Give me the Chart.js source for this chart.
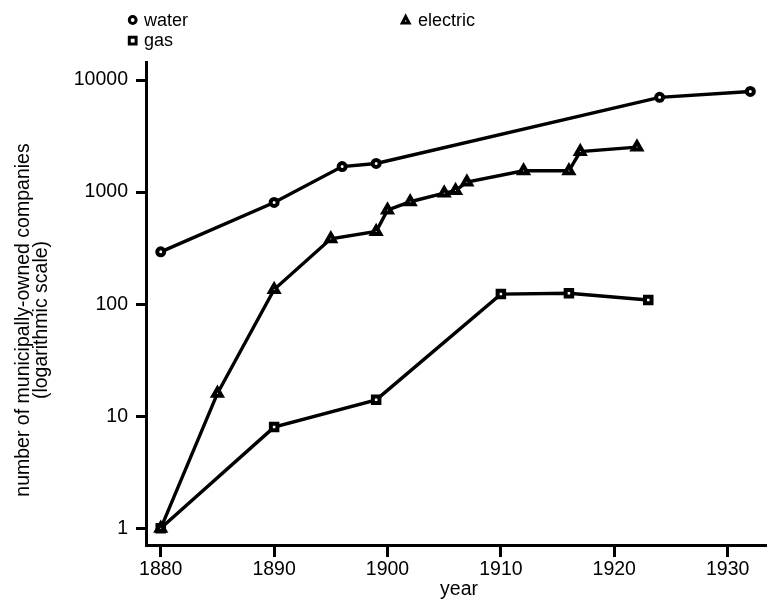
<!DOCTYPE html>
<html>
<head>
<meta charset="utf-8">
<title>Municipally-owned companies</title>
<script src="https://cdn.jsdelivr.net/npm/chart.js@4/dist/chart.umd.min.js"></script>
<style>
  html, body { margin: 0; padding: 0; background: #fff; }
  canvas { display: block; }
</style>
</head>
<body>
<canvas id="chart" width="775" height="603"></canvas>
<script>
// --- data ---
var waterYears = [1880, 1890, 1896, 1899, 1924, 1932];
var waterCounts = [293, 808, 1690, 1800, 7000, 7900];

var electricYears = [1880, 1885, 1890, 1895, 1899, 1900, 1902, 1905, 1906, 1907, 1912, 1916, 1917, 1922];
var electricCounts = [1, 16, 135, 383, 445, 690, 820, 980, 1030, 1230, 1550, 1550, 2300, 2520];

var gasYears = [1880, 1890, 1899, 1910, 1916, 1923];
var gasCounts = [1, 8, 14, 123, 125, 109];

var yearTicks = [1880, 1890, 1900, 1910, 1920, 1930];
var countTicks = [1, 10, 100, 1000, 10000];

var seriesNames = ['water', 'electric', 'gas'];

function toPoints(xs, ys) {
  return xs.map(function (x, i) { return { x: x, y: ys[i] }; });
}

var FONT = "'Liberation Sans', Arial, Helvetica, sans-serif";
Chart.defaults.font.family = FONT;
Chart.defaults.color = '#000';

function series(label, xs, ys, style, radius) {
  return {
    label: label,
    data: toPoints(xs, ys),
    borderColor: '#000',
    borderWidth: 3.4,
    pointStyle: style,
    pointRadius: radius,
    pointBorderWidth: 4,
    pointBackgroundColor: '#fff',
    pointBorderColor: '#000',
    tension: 0,
    fill: false
  };
}

// marker drawing used by the legend
function marker(ctx, style, x, y, r) {
  ctx.beginPath();
  if (style === 'circle') {
    ctx.arc(x, y, r, 0, Math.PI * 2);
  } else if (style === 'triangle') {
    ctx.moveTo(x, y - r * 1.15);
    ctx.lineTo(x + r, y + r * 0.75);
    ctx.lineTo(x - r, y + r * 0.75);
    ctx.closePath();
  } else {
    ctx.rect(x - r, y - r, 2 * r, 2 * r);
  }
  ctx.fillStyle = '#fff';
  ctx.fill();
  ctx.lineWidth = 3;
  ctx.strokeStyle = '#000';
  ctx.stroke();
}

var annotations = {
  id: 'annotations',
  afterDraw: function (chart) {
    var ctx = chart.ctx;
    ctx.save();
    ctx.fillStyle = '#000';

    // legend
    ctx.font = '18px ' + FONT;
    ctx.textAlign = 'left';
    ctx.textBaseline = 'alphabetic';
    var legend = [
      { name: seriesNames[0], style: 'circle', x: 132.7, y: 20, tx: 144, ty: 26 },
      { name: seriesNames[1], style: 'triangle', x: 405.7, y: 20.5, tx: 418, ty: 26 },
      { name: seriesNames[2], style: 'rect', x: 132.7, y: 40.7, tx: 144, ty: 46 }
    ];
    legend.forEach(function (l) {
      marker(ctx, l.style, l.x, l.y, 3.4);
      ctx.fillStyle = '#000';
      ctx.fillText(l.name, l.tx, l.ty);
    });

    // x title
    ctx.font = '19.5px ' + FONT;
    ctx.textAlign = 'center';
    ctx.fillText('year', 459, 595);

    // y title, two lines
    ctx.translate(0, 320);
    ctx.rotate(-Math.PI / 2);
    ctx.fillText('number of municipally-owned companies', 0, 29);
    ctx.fillText('(logarithmic scale)', 0, 47);
    ctx.restore();
  }
};

new Chart(document.getElementById('chart').getContext('2d'), {
  type: 'line',
  data: {
    datasets: [
      series(seriesNames[0], waterYears, waterCounts, 'circle', 3.5),
      series(seriesNames[1], electricYears, electricCounts, 'triangle', 4.8),
      series(seriesNames[2], gasYears, gasCounts, 'rect', 4.6)
    ]
  },
  options: {
    responsive: false,
    animation: false,
    devicePixelRatio: 1,
    layout: { padding: { top: 62, right: 0, left: 0, bottom: 0 } },
    plugins: {
      legend: { display: false },
      tooltip: { enabled: false }
    },
    scales: {
      x: {
        type: 'linear',
        bounds: 'data',
        min: 1878.7,
        max: 1933.4,
        afterBuildTicks: function (scale) {
          scale.ticks = yearTicks.map(function (v) { return { value: v }; });
        },
        afterFit: function (scale) { scale.height = 58; },
        border: { display: true, color: '#000', width: 3 },
        grid: {
          display: true,
          drawOnChartArea: false,
          drawTicks: true,
          tickLength: 12,
          tickWidth: 3,
          tickColor: '#000'
        },
        ticks: {
          padding: 1,
          maxRotation: 0,
          autoSkip: false,
          font: { size: 19.5 },
          color: '#000',
          callback: function (v) { return String(v); }
        }
      },
      y: {
        type: 'logarithmic',
        bounds: 'data',
        min: 0.71,
        max: 14475,
        afterBuildTicks: function (scale) {
          scale.ticks = countTicks.map(function (v) { return { value: v }; });
        },
        afterFit: function (scale) { scale.width = 146; },
        border: { display: true, color: '#000', width: 3 },
        grid: {
          display: true,
          drawOnChartArea: false,
          drawTicks: true,
          tickLength: 10,
          tickWidth: 3,
          tickColor: '#000'
        },
        ticks: {
          padding: 8,
          autoSkip: false,
          font: { size: 19.5 },
          color: '#000',
          callback: function (v) { return String(v); }
        }
      }
    }
  },
  plugins: [annotations]
});
</script>
</body>
</html>
